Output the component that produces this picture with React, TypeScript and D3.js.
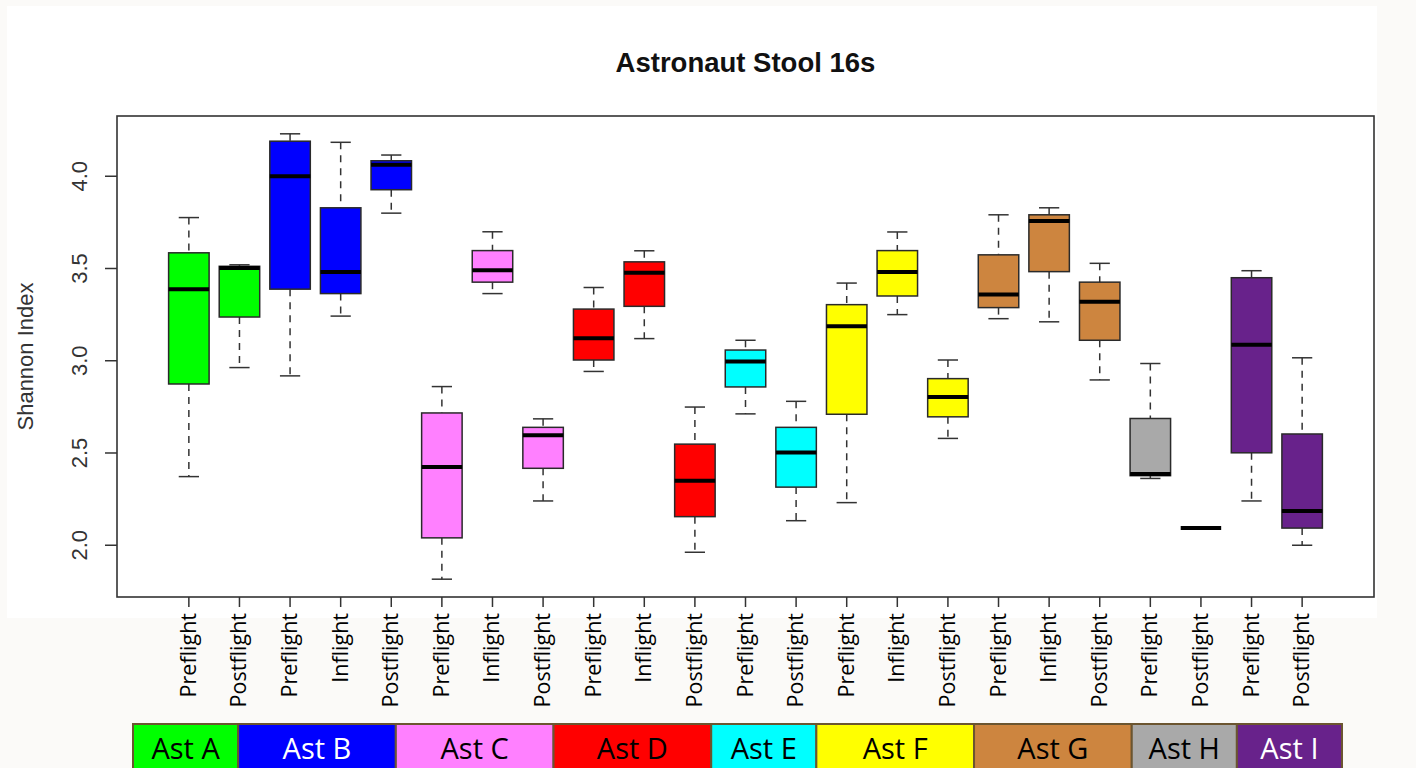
import * as d3 from "d3";

const width = 1416;
const height = 768;
const panel = { x: 7, y: 6, w: 1370, h: 612 };
const plot = { left: 117, right: 1374, top: 116, bottom: 597 };

// one entry per box, left to right
const astronauts = ["Ast A", "Ast B", "Ast C", "Ast D", "Ast E", "Ast F", "Ast G", "Ast H", "Ast I"];
const boxesPerAstronaut = [2, 3, 3, 3, 2, 3, 3, 2, 2];
const astroColors = ["#00ff00", "#0000ff", "#ff80ff", "#ff0000", "#00ffff", "#ffff00", "#cd853f", "#a9a9a9", "#68228b"];
const legendTextColors = ["#000", "#fff", "#000", "#000", "#000", "#000", "#000", "#000", "#fff"];

const phases = [
  "Preflight", "Postflight",
  "Preflight", "Inflight", "Postflight",
  "Preflight", "Inflight", "Postflight",
  "Preflight", "Inflight", "Postflight",
  "Preflight", "Postflight",
  "Preflight", "Inflight", "Postflight",
  "Preflight", "Inflight", "Postflight",
  "Preflight", "Postflight",
  "Preflight", "Postflight",
];

const whiskerHigh = [3.776, 3.52, 4.23, 4.184, 4.115, 2.86, 3.699, 2.685, 3.397, 3.596, 2.749, 3.111, 2.78, 3.421, 3.698, 3.004, 3.791, 3.829, 3.528, 2.985, 2.093, 3.488, 3.016];
const q3 = [3.585, 3.512, 4.19, 3.829, 4.084, 2.717, 3.597, 2.639, 3.28, 3.536, 2.548, 3.058, 2.639, 3.304, 3.597, 2.903, 3.574, 3.791, 3.426, 2.687, 2.093, 3.45, 2.603];
const median = [3.388, 3.503, 4.0, 3.481, 4.062, 2.424, 3.49, 2.596, 3.122, 3.477, 2.35, 2.996, 2.503, 3.187, 3.481, 2.803, 3.359, 3.758, 3.32, 2.386, 2.093, 3.087, 2.186];
const q1 = [2.874, 3.237, 3.388, 3.364, 3.927, 2.04, 3.426, 2.417, 3.004, 3.295, 2.155, 2.858, 2.315, 2.71, 3.351, 2.696, 3.288, 3.483, 3.111, 2.377, 2.093, 2.501, 2.093];
const whiskerLow = [2.372, 2.963, 2.918, 3.242, 3.8, 1.816, 3.364, 2.24, 2.942, 3.12, 1.962, 2.712, 2.133, 2.231, 3.25, 2.579, 3.228, 3.211, 2.896, 2.362, 2.093, 2.24, 2.0];

const yTicks = [2.0, 2.5, 3.0, 3.5, 4.0];

export default function App() {
  const n = phases.length;
  // box colour comes from the astronaut the box belongs to
  const boxAstro = boxesPerAstronaut.flatMap((c, i) => d3.range(c).map(() => i));

  // R style 4% padding on both axes
  const xPad = n * 0.04;
  const x = d3
    .scaleLinear()
    .domain([0.5 - xPad, n + 0.5 + xPad])
    .range([plot.left, plot.right]);
  const yMin = d3.min(whiskerLow);
  const yMax = d3.max(whiskerHigh);
  const yPad = (yMax - yMin) * 0.04;
  const y = d3
    .scaleLinear()
    .domain([yMin - yPad, yMax + yPad])
    .range([plot.bottom, plot.top]);

  const unit = x(2) - x(1);
  const boxW = unit * 0.8;
  const capW = boxW * 0.5;

  const legendX = d3.scaleLinear().domain([0, n]).range([133, 1342]);
  const starts = d3.cumsum([0, ...boxesPerAstronaut]);

  return (
    <svg
      width={width}
      height={height}
      style={{ position: "absolute", left: 0, top: 0, background: "#fbfaf8" }}
    >
      <rect x={panel.x} y={panel.y} width={panel.w} height={panel.h} fill="#fff" />

      <text
        x={(plot.left + plot.right) / 2}
        y={72}
        textAnchor="middle"
        fontFamily="Liberation Sans, Arial, sans-serif"
        fontWeight="bold"
        fontSize={27.5}
        fill="#111"
      >
        Astronaut Stool 16s
      </text>

      {phases.map((p, i) => {
        const cx = x(i + 1);
        const c = astroColors[boxAstro[i]];
        return (
          <g key={i}>
            <line x1={cx} x2={cx} y1={y(whiskerHigh[i])} y2={y(q3[i])} stroke="#333" strokeWidth={1.5} strokeDasharray="7,6" />
            <line x1={cx} x2={cx} y1={y(q1[i])} y2={y(whiskerLow[i])} stroke="#333" strokeWidth={1.5} strokeDasharray="7,6" />
            <line x1={cx - capW / 2} x2={cx + capW / 2} y1={y(whiskerHigh[i])} y2={y(whiskerHigh[i])} stroke="#333" strokeWidth={1.5} />
            <line x1={cx - capW / 2} x2={cx + capW / 2} y1={y(whiskerLow[i])} y2={y(whiskerLow[i])} stroke="#333" strokeWidth={1.5} />
            <rect
              x={cx - boxW / 2}
              y={y(q3[i])}
              width={boxW}
              height={Math.max(0, y(q1[i]) - y(q3[i]))}
              fill={c}
              stroke="#2a2a2a"
              strokeWidth={1.5}
            />
            <line x1={cx - boxW / 2} x2={cx + boxW / 2} y1={y(median[i])} y2={y(median[i])} stroke="#000" strokeWidth={4} />
          </g>
        );
      })}

      <rect
        x={plot.left}
        y={plot.top}
        width={plot.right - plot.left}
        height={plot.bottom - plot.top}
        fill="none"
        stroke="#333"
        strokeWidth={1.6}
      />

      {/* y axis */}
      {yTicks.map((t) => (
        <g key={t}>
          <line x1={plot.left} x2={plot.left - 12} y1={y(t)} y2={y(t)} stroke="#333" strokeWidth={1.5} />
          <text
            transform={`translate(87,${y(t)}) rotate(-90)`}
            textAnchor="middle"
            fontFamily="Liberation Sans, Arial, sans-serif"
            fontSize={22}
            fill="#333"
          >
            {t.toFixed(1)}
          </text>
        </g>
      ))}
      <text
        transform={`translate(33,${(plot.top + plot.bottom) / 2}) rotate(-90)`}
        textAnchor="middle"
        fontFamily="Liberation Sans, Arial, sans-serif"
        fontSize={22}
        fill="#333"
      >
        Shannon Index
      </text>

      {/* x axis */}
      {phases.map((p, i) => (
        <g key={i}>
          <line x1={x(i + 1)} x2={x(i + 1)} y1={plot.bottom} y2={plot.bottom + 10} stroke="#333" strokeWidth={1.5} />
          <text
            transform={`translate(${x(i + 1) + 7},613) rotate(-90)`}
            textAnchor="end"
            fontFamily="Open Sans, sans-serif"
            fontSize={21.5}
            fill="#000"
          >
            {p}
          </text>
        </g>
      ))}

      {/* astronaut legend band */}
      {astronauts.map((a, i) => {
        const x0 = legendX(starts[i]);
        const x1 = legendX(starts[i + 1]);
        return (
          <g key={a}>
            <rect x={x0} y={724} width={x1 - x0} height={60} fill={astroColors[i]} stroke="#6b5530" strokeWidth={2} />
            <text
              x={(x0 + x1) / 2}
              y={759}
              textAnchor="middle"
              fontFamily="Open Sans, sans-serif"
              fontSize={29}
              fill={legendTextColors[i]}
            >
              {a}
            </text>
          </g>
        );
      })}
    </svg>
  );
}
